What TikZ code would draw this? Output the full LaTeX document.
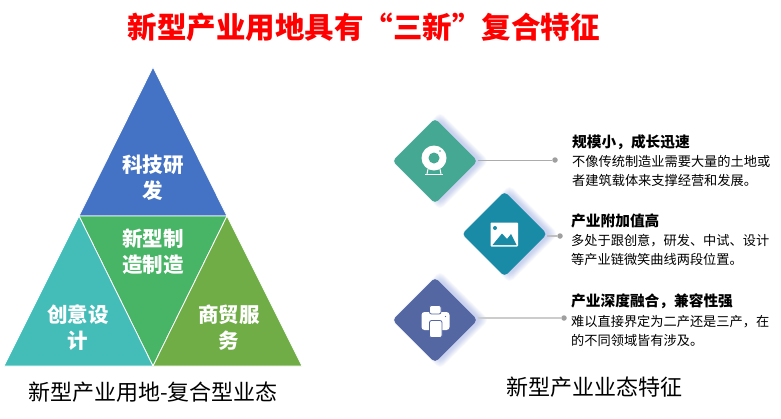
\documentclass[tikz,border=0pt]{standalone}
\usepackage{fontspec}
\setmainfont{Noto Sans CJK SC}
\usetikzlibrary{shapes.geometric}
\definecolor{triblue}{HTML}{4472C4}
\definecolor{trigreen}{HTML}{47B565}
\definecolor{triteal}{HTML}{44BDB9}
\definecolor{triolive}{HTML}{70AD47}
\definecolor{webcamgreen}{HTML}{45A893}
\definecolor{picteal}{HTML}{1A8BA6}
\definecolor{printerblue}{HTML}{5567A3}
\definecolor{glowblue}{HTML}{5A78D8}
\tikzstyle{tri}=[draw=white,line width=0.8pt,line join=round]
\tikzstyle{trilabel}=[white,inner sep=0,align=center,font=\fontsize{20.5}{26}\selectfont\bfseries]
\tikzstyle{caption}=[black,inner sep=0,font=\fontsize{22}{26}\selectfont]
\tikzstyle{badge}=[shape=diamond,aspect=1,minimum width=85pt,minimum height=85pt,inner sep=0,outer sep=0,rounded corners=4pt]
\tikzstyle{glow}=[shape=diamond,aspect=1,inner sep=0,outer sep=0,rounded corners=5pt,fill=glowblue,opacity=0.04]
\tikzstyle{enddot}=[shape=circle,minimum size=5.5pt,inner sep=0,fill=gray!75]
\tikzstyle{itemhead}=[anchor=west,inner sep=0,font=\fontsize{14.7}{18}\selectfont\bfseries]
\tikzstyle{itembody}=[anchor=west,inner sep=0,align=left,font=\fontsize{13.2}{19.6}\selectfont]
\begin{document}
\begin{tikzpicture}[x=1pt,y=-1pt]
\path[fill=white,use as bounding box] (0,0) rectangle (781,418);

\node[red,inner sep=0,font=\fontsize{29.5}{34}\selectfont\bfseries] (title) at (363.5,27) {新型产业用地具有“三新”复合特征};

\fill[tri,fill=triblue] (153,67)--(227,216)--(79,216)--cycle;
\fill[tri,fill=trigreen] (79,216)--(227,216)--(153,366)--cycle;
\fill[tri,fill=triteal] (79,216)--(153,366)--(4,366)--cycle;
\fill[tri,fill=triolive] (227,216)--(302,366)--(153,366)--cycle;
\node[trilabel] (research) at (153,178) {科技研\\发};
\node[trilabel] (making) at (153,252) {新型制\\造制造};
\node[trilabel] (design) at (78,328) {创意设\\计};
\node[trilabel] (trade) at (229,328) {商贸服\\务};
\node[caption] (leftcap) at (153,392) {新型产业用地-复合型业态};
\node[caption] (rightcap) at (594,387) {新型产业业态特征};

\foreach \cx/\cy in {440/161,509.5/234,440/320}{
	\foreach \s in {82,84,...,98}{
		\node[glow,minimum width=\s pt,minimum height=\s pt] at (\cx,\cy) {};
	}}

\node[badge,fill=webcamgreen] (webcam) at (435,161) {};
\node[badge,fill=picteal] (picture) at (504.5,234) {};
\node[badge,fill=printerblue] (printer) at (435,320) {};
\node[enddot] (dota) at (555,160) {};
\node[enddot] (dotb) at (560,236) {};
\node[enddot] (dotc) at (564,318) {};
\draw[gray!65,line width=0.9pt] (webcam.east|-dota)--(dota);
\draw[gray!50,line width=1.2pt] (picture.east|-dotb)--(dotb);
\draw[gray!40,line width=1.2pt] (printer.east|-dotc)--(dotc);

\fill[white] (434,158) circle (12.5);
\fill[webcamgreen] (434,158) circle (5.5);
\fill[webcamgreen] (440,151) circle (0.8);
\draw[white,line width=1pt] (428,169)--(427,174) (440,169)--(441,174);
\draw[white,line width=1pt] (425,174.5)--(443,174.5);

\fill[white,rounded corners=0.8pt] (490.5,222.5) rectangle (518,246.5);
\fill[picteal] (495,228) circle (2);
\fill[picteal] (492.5,245)--(502,233.5)--(507,239)--(511,234)--(516.5,245)--cycle;

\fill[white,rounded corners=3pt] (421.5,312) rectangle (449.5,330);
\fill[white,rounded corners=2pt,draw=printerblue,line width=0.8pt] (429.5,305.5) rectangle (441,314);
\fill[white,rounded corners=2pt,draw=printerblue,line width=0.8pt] (429.5,320.5) rectangle (442,337.5);
\fill[printerblue] (445.5,316.5) circle (0.6);

\node[itemhead] (heada) at (572,142) {规模小，成长迅速};
\node[itembody] (bodya) at (572,171) {不像传统制造业需要大量的土地或\\者建筑载体来支撑经营和发展。};
\node[itemhead] (headb) at (571,221) {产业附加值高};
\node[itembody] (bodyb) at (571,250) {多处于跟创意，研发、中试、设计\\等产业链微笑曲线两段位置。};
\node[itemhead] (headc) at (571,301) {产业深度融合，兼容性强};
\node[itembody] (bodyc) at (571,331) {难以直接界定为二产还是三产，在\\的不同领域皆有涉及。};
\end{tikzpicture}
\end{document}
